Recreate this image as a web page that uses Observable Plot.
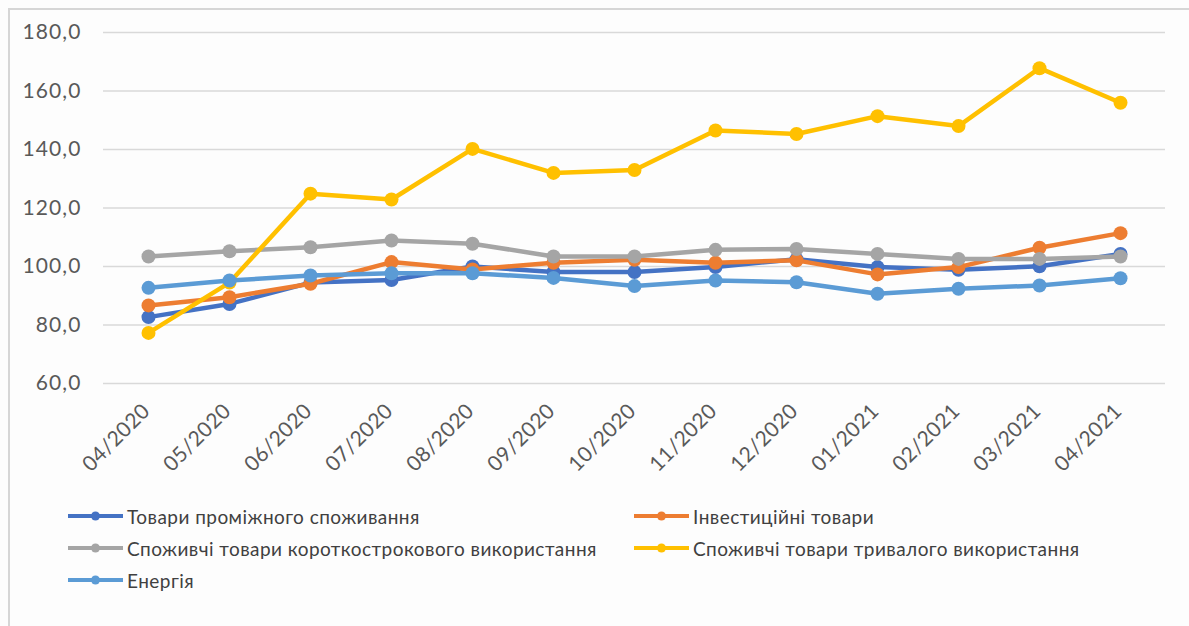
<!DOCTYPE html>
<html>
<head>
<meta charset="utf-8">
<script src="https://cdn.jsdelivr.net/npm/d3@7"></script>
<script src="https://cdn.jsdelivr.net/npm/@observablehq/plot@0.6"></script>
<style>
  html, body { margin: 0; padding: 0; background: #ffffff; }
  #wrap { position: relative; width: 1189px; height: 626px; overflow: hidden; background: #fdfdfd; }
  #frame { position: absolute; left: 8px; top: 8px; width: 1200px; height: 640px; border: 2px solid #d6d6d6; box-sizing: border-box; }
  #chart { position: absolute; left: 0; top: 0; }
  #legend { position: absolute; left: 0; top: 0; font-family: Lato, sans-serif; font-size: 19px; letter-spacing: 0.45px; color: #404040; }
  .item { position: absolute; display: flex; align-items: center; white-space: nowrap; }
  .item svg { display: block; margin-right: 4px; }
</style>
</head>
<body>
<div id="wrap">
  <div id="frame"></div>
  <div id="chart"></div>
  <div id="legend"></div>
</div>
<script>
const months = ["04/2020","05/2020","06/2020","07/2020","08/2020","09/2020","10/2020","11/2020","12/2020","01/2021","02/2021","03/2021","04/2021"];
const seriesNames = [
  "Товари проміжного споживання",
  "Інвестиційні товари",
  "Споживчі товари короткострокового використання",
  "Споживчі товари тривалого використання",
  "Енергія"
];
const seriesColors = ["#4472C4", "#ED7D31", "#A5A5A5", "#FFC000", "#5B9BD5"];
const intermediate = [82.7, 87.2, 94.5, 95.4, 100.0, 98.1, 98.1, 99.8, 102.5, 99.8, 98.9, 100.1, 104.3];
const investment   = [86.7, 89.5, 94.1, 101.5, 99.0, 101.3, 102.3, 101.3, 102.1, 97.3, 99.8, 106.4, 111.4];
const shortTerm    = [103.4, 105.2, 106.6, 108.9, 107.8, 103.4, 103.4, 105.7, 106.0, 104.3, 102.6, 102.6, 103.4];
const durable      = [77.3, 94.5, 124.9, 122.9, 140.2, 132.0, 133.0, 146.5, 145.3, 151.4, 148.0, 167.8, 156.0];
const energy       = [92.7, 95.2, 96.9, 97.7, 97.7, 96.1, 93.3, 95.2, 94.6, 90.7, 92.4, 93.5, 96.0];
const yTicks = [60, 80, 100, 120, 140, 160, 180];

const allValues = [intermediate, investment, shortTerm, durable, energy];
const tables = allValues.map((vals, i) => months.map((m, j) => ({month: m, value: vals[j], series: seriesNames[i]})));

const color = {domain: seriesNames, range: seriesColors};

const marks = [
  Plot.gridY(yTicks, {stroke: "#d9d9d9", strokeOpacity: 1, strokeWidth: 1.3})
];
tables.forEach((t) => {
  marks.push(Plot.lineY(t, {x: "month", y: "value", stroke: "series", strokeWidth: 4.5}));
  marks.push(Plot.dot(t, {x: "month", y: "value", fill: "series", r: 7}));
});

const W = 1189, H = 470;
const yFmt = d => d.toFixed(1).replace(".", ",");
const chart = Plot.plot({
  width: W,
  height: H,
  marginLeft: 103,
  marginRight: 24,
  marginTop: 32,
  marginBottom: H - 383,
  style: {background: "transparent", fontFamily: "Lato, sans-serif", fontSize: "21px", color: "#595959", overflow: "visible"},
  x: {type: "point", domain: months, padding: 0.5, label: null},
  y: {domain: [60, 180], label: null},
  color,
  marks: [
    ...marks,
    Plot.axisX({tickSize: 0, tickPadding: 10, tickRotate: -45, fill: "#595959", fontSize: 21, dx: -2, dy: 14, label: null}),
    Plot.axisY({ticks: yTicks, tickFormat: yFmt, tickSize: 0, tickPadding: 22, fill: "#595959", fontSize: 21, label: null})
  ]
});
chart.querySelectorAll("[aria-label='x-axis tick label'] text").forEach(t => t.style.letterSpacing = "0.4px");
chart.querySelectorAll("[aria-label='y-axis tick label'] text").forEach(t => t.style.letterSpacing = "1.1px");
document.getElementById("chart").appendChild(chart);

// Legend
const legendPos = [
  {left: 68, top: 516},
  {left: 634, top: 516},
  {left: 68, top: 548},
  {left: 634, top: 548},
  {left: 68, top: 580}
];
const legend = document.getElementById("legend");
seriesNames.forEach((name, i) => {
  const item = document.createElement("div");
  item.className = "item";
  item.style.left = legendPos[i].left + "px";
  item.style.top = (legendPos[i].top - 12) + "px";
  item.style.height = "24px";
  const sw = `<svg width="55" height="12"><line x1="0" y1="6" x2="55" y2="6" stroke="${seriesColors[i]}" stroke-width="4"/><circle cx="27.5" cy="6" r="4.5" fill="${seriesColors[i]}"/></svg>`;
  item.innerHTML = sw + `<span>${name}</span>`;
  legend.appendChild(item);
});
</script>
</body>
</html>
